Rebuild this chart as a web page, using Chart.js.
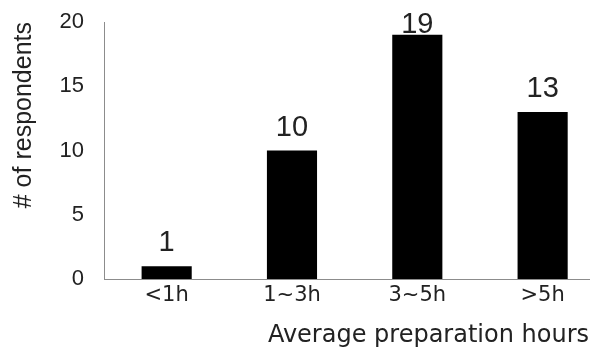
<!DOCTYPE html>
<html>
<head>
<meta charset="utf-8">
<script src="https://cdn.jsdelivr.net/npm/chart.js@4"></script>
<style>
  html, body { margin: 0; padding: 0; background: #fff; }
  #chart { display: block; }
</style>
</head>
<body>
<canvas id="chart" width="599" height="353"></canvas>
<script>
const categories = ["<1h", "1~3h", "3~5h", ">5h"]
const respondents = [1, 10, 19, 13]
const yTicks = [0, 5, 10, 15, 20]

const axisGray = "#8c8c8c"
const textColor = "#222"

// value labels above each bar
const valueLabels = {
    id: "valueLabels",
    afterDatasetsDraw(chart) {
        const ctx = chart.ctx
        const size = 29
        ctx.save()
        ctx.font = size + "px 'Liberation Sans', Arial, sans-serif"
        ctx.fillStyle = textColor
        ctx.textAlign = "center"
        ctx.textBaseline = "alphabetic"
        chart.getDatasetMeta(0).data.forEach((bar, i) => {
            const y = Math.max(bar.y - 15, size + 4)
            ctx.fillText(String(respondents[i]), bar.x, y)
        })
        ctx.restore()
    }
}

const ctx = document.getElementById("chart").getContext("2d")
const chart = new Chart(ctx, {
    type: "bar",
    data: {
        datasets: [{
            data: categories.map((c, i) => ({ x: i, y: respondents[i] })),
            backgroundColor: "#000",
            borderWidth: 0,
            barPercentage: 0.4,
            categoryPercentage: 1
        }]
    },
    options: {
        responsive: false,
        animation: false,
        layout: { padding: { top: 22, left: 0, right: 10, bottom: 0 } },
        plugins: {
            legend: { display: false },
            tooltip: { enabled: false }
        },
        scales: {
            x: {
                type: "linear",
                offset: false,
                min: -0.5,
                max: 3.37,
                grid: { display: false, drawTicks: false },
                border: { display: true, color: axisGray, width: 1 },
                afterBuildTicks: s => { s.ticks = categories.map((c, i) => ({ value: i })) },
                afterFit: s => {
                    s.height = 74
                    s.paddingLeft = 0
                    s.paddingRight = 0
                },
                ticks: {
                    padding: 4,
                    color: textColor,
                    font: { family: "'DejaVu Sans', sans-serif", size: 21 },
                    callback: v => categories[v]
                },
                title: {
                    display: true,
                    text: "Average preparation hours",
                    align: "end",
                    color: textColor,
                    padding: { top: 0, bottom: 3 },
                    font: { family: "'DejaVu Sans', sans-serif", size: 24 }
                }
            },
            y: {
                min: 0,
                max: 20,
                grid: { display: false, drawTicks: false },
                border: { display: true, color: axisGray, width: 1 },
                afterBuildTicks: s => { s.ticks = yTicks.map(v => ({ value: v })) },
                afterFit: s => {
                    s.width = 104
                    s.paddingTop = 0
                    s.paddingBottom = 0
                },
                ticks: {
                    padding: 20,
                    color: textColor,
                    font: { family: "'Liberation Sans', Arial, sans-serif", size: 22 }
                },
                title: {
                    display: true,
                    text: "# of respondents",
                    align: "end",
                    color: textColor,
                    padding: { top: 9, bottom: 0 },
                    font: { family: "'Liberation Sans', Arial, sans-serif", size: 25 }
                }
            }
        }
    },
    plugins: [valueLabels]
})
</script>
</body>
</html>
